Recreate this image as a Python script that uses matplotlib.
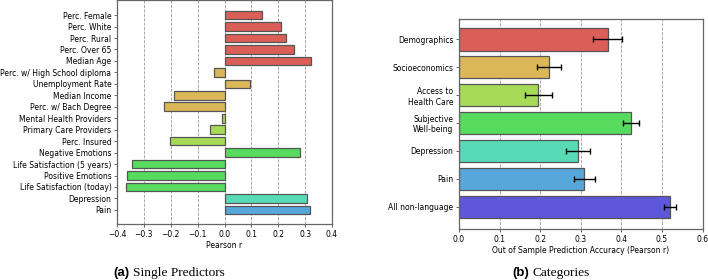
import matplotlib
matplotlib.use('Agg')
import matplotlib.pyplot as plt
import seaborn as sns

plt.rcParams['font.family'] = ['DejaVu Sans']

# single predictors (panel a)
predictors = ['Perc. Female', 'Perc. White', 'Perc. Rural', 'Perc. Over 65', 'Median Age',
              'Perc. w/ High School diploma', 'Unemployment Rate', 'Median Income',
              'Perc. w/ Bach Degree', 'Mental Health Providers', 'Primary Care Providers',
              'Perc. Insured', 'Negative Emotions', 'Life Satisfaction (5 years)',
              'Positive Emotions', 'Life Satisfaction (today)', 'Depression', 'Pain']
pearson_r = [0.138, 0.212, 0.230, 0.260, 0.323,
             -0.038, 0.094, -0.188, -0.226,
             -0.011, -0.054, -0.204,
             0.281, -0.344, -0.363, -0.367,
             0.307, 0.319]
pred_group = [0, 0, 0, 0, 0, 1, 1, 1, 1, 2, 2, 2, 3, 3, 3, 3, 4, 5]

# categories (panel b)
categories = ['Demographics', 'Socioeconomics', 'Access to\nHealth Care', 'Subjective\nWell-being',
              'Depression', 'Pain', 'All non-language']
accuracy = [0.366, 0.222, 0.195, 0.424, 0.293, 0.309, 0.520]
acc_err = [0.035, 0.030, 0.033, 0.020, 0.030, 0.026, 0.014]

pal = sns.color_palette('hls', 9)[:7]
edge = '#555555'
fs = 5.5

fig = plt.figure(figsize=(7.08, 2.8), dpi=100)
ax1 = fig.add_axes([117/708, 56/280, 215/708, 224/280])
ax2 = fig.add_axes([459/708, 51/280, 243.6/708, 210/280])

ax1.barh(range(len(predictors)), pearson_r, height=0.75,
         color=[pal[g] for g in pred_group], edgecolor=edge, linewidth=0.9, zorder=2)
ax1.set_yticks(range(len(predictors)))
ax1.set_yticklabels(predictors)
ax1.set_ylim(18.23, -1.32)
ax1.set_xlim(-0.4, 0.4)
ax1.set_xticks([-0.4, -0.3, -0.2, -0.1, 0.0, 0.1, 0.2, 0.3, 0.4])
ax1.set_xticklabels(['\u22120.4', '\u22120.3', '\u22120.2', '\u22120.1', '0.0', '0.1', '0.2', '0.3', '0.4'])
ax1.set_xlabel('Pearson r', fontsize=fs, labelpad=2)

ax2.barh(range(len(categories)), accuracy, height=0.8, xerr=acc_err,
         color=pal, edgecolor=edge, linewidth=0.9, zorder=2,
         error_kw=dict(ecolor='black', elinewidth=1.0, capsize=2.2, capthick=1.0))
ax2.set_yticks(range(len(categories)))
ax2.set_yticklabels(categories)
ax2.set_ylim(6.8, -0.73)
ax2.set_xlim(0, 0.6)
ax2.set_xticks([0.0, 0.1, 0.2, 0.3, 0.4, 0.5, 0.6])
ax2.set_xlabel('Out of Sample Prediction Accuracy (Pearson r)', fontsize=fs, labelpad=2)

for ax in (ax1, ax2):
    ax.grid(axis='x', linestyle='--', color='0.6', linewidth=0.6, zorder=0)
    ax.set_axisbelow(True)
    ax.tick_params(labelsize=fs, length=2.5, width=0.6, pad=1.5, color='0.3')
    for s in ax.spines.values():
        s.set_color('0.4')
        s.set_linewidth(0.9)

fig.text(113/708, 4/280, '(a)', family='Liberation Sans', weight='bold', fontsize=9.5, va='baseline')
fig.text(133/708, 4/280, 'Single Predictors', family='Liberation Serif', fontsize=9.6, va='baseline')
fig.text(512.7/708, 4/280, '(b)', family='Liberation Sans', weight='bold', fontsize=9.5, va='baseline')
fig.text(532.7/708, 4/280, 'Categories', family='Liberation Serif', fontsize=9.6, va='baseline')

fig.savefig('out.png', dpi=100)
